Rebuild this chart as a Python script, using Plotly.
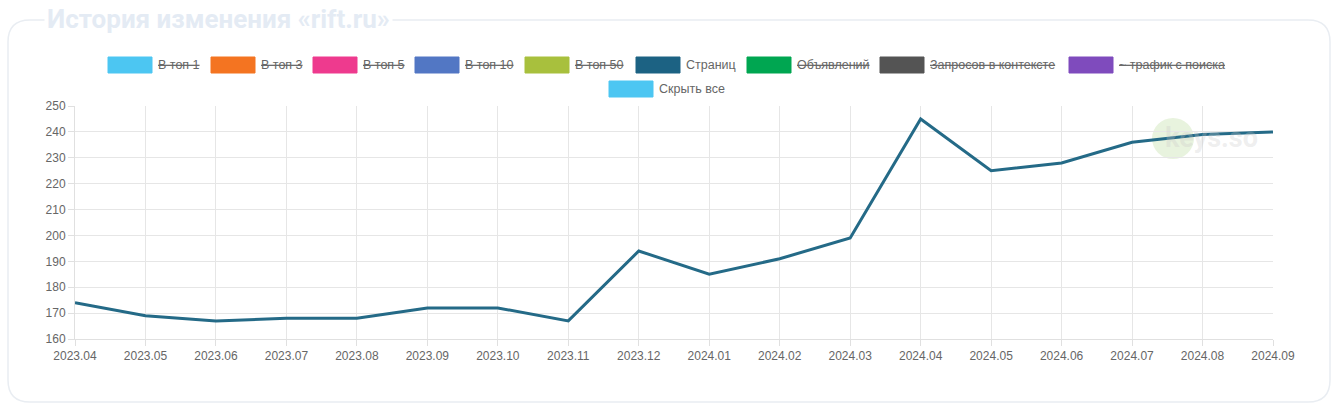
import plotly.graph_objects as go

months = ["2023.04", "2023.05", "2023.06", "2023.07", "2023.08", "2023.09",
          "2023.10", "2023.11", "2023.12", "2024.01", "2024.02", "2024.03",
          "2024.04", "2024.05", "2024.06", "2024.07", "2024.08", "2024.09"]
pages = [174, 169, 167, 168, 168, 172, 172, 167, 194, 185, 191, 199,
         245, 225, 228, 236, 239, 240]

legend_names = ["В топ 1", "В топ 3", "В топ 5", "В топ 10", "В топ 50",
                "Страниц", "Объявлений", "Запросов в контексте", "~ трафик с поиска",
                "Скрыть все"]
legend_colors = ["#4cc6f2", "#f47421", "#ee3a8e", "#5277c4", "#a8c03d",
                 "#1c6283", "#00a651", "#545454", "#7f4bbd", "#4cc6f2"]
legend_hidden = [True, True, True, True, True, False, True, True, True, False]
# pixel layout of legend boxes (left x, center y) in page pixels
legend_box_x = [108, 211, 313, 415, 525, 636, 747, 880, 1069, 609]
legend_row_y = [65, 65, 65, 65, 65, 65, 65, 65, 65, 89]

W, H = 1340, 409
L, R, T, B = 75, 1273, 106, 339  # plot area in page pixels


def px(x):
    return (x - L) / (R - L)


def py(y):
    return (B - y) / (B - T)


fig = go.Figure()
fig.add_trace(go.Scatter(
    x=months, y=pages, mode="lines", name="Страниц",
    line=dict(color="#246a87", width=3), showlegend=False,
    hovertemplate="%{x}: %{y}<extra></extra>"))

shapes = []
annotations = []

# rounded frame
x0, x1, y0, y1, r = 8, 1330, 20, 402, 22
rx, ry = r / (R - L), r / (B - T)
X0, X1, Y0, Y1 = px(x0), px(x1), py(y0), py(y1)
path = (f"M {X0+rx},{Y0} L {X1-rx},{Y0} Q {X1},{Y0} {X1},{Y0-ry} "
        f"L {X1},{Y1+ry} Q {X1},{Y1} {X1-rx},{Y1} L {X0+rx},{Y1} "
        f"Q {X0},{Y1} {X0},{Y1+ry} L {X0},{Y0-ry} Q {X0},{Y0} {X0+rx},{Y0} Z")
shapes.append(dict(type="path", xref="paper", yref="paper", path=path,
                   line=dict(color="#e9edf2", width=1.5), fillcolor="rgba(0,0,0,0)",
                   layer="below"))

# title
annotations.append(dict(x=px(44), y=py(19), xref="paper", yref="paper",
                        xanchor="left", yanchor="middle", showarrow=False,
                        text="<b>История изменения «rift.ru»</b>",
                        font=dict(family="Roboto", size=26, color="#e4ebf4"),
                        bgcolor="white", borderpad=2))

# legend
for name, col, hid, bx, by in zip(legend_names, legend_colors, legend_hidden,
                                  legend_box_x, legend_row_y):
    shapes.append(dict(type="rect", xref="paper", yref="paper",
                       x0=px(bx), x1=px(bx + 44), y0=py(by - 8), y1=py(by + 8),
                       fillcolor=col, line=dict(color=col, width=1)))
    txt = f"<s>{name}</s>" if hid else name
    annotations.append(dict(x=px(bx + 48), y=py(by), xref="paper", yref="paper",
                            xanchor="left", yanchor="middle", showarrow=False,
                            text=txt, font=dict(family="Liberation Sans", size=12.5,
                                                color="#666666")))

# watermark
shapes.append(dict(type="circle", xref="paper", yref="paper",
                   x0=px(1152), x1=px(1194), y0=py(118), y1=py(159),
                   fillcolor="rgba(190,220,160,0.35)", line=dict(width=0), layer="below"))
annotations.append(dict(x=px(1211), y=py(138), xref="paper", yref="paper",
                        xanchor="center", yanchor="middle", showarrow=False,
                        text="<b>keys.so</b>",
                        font=dict(family="Roboto", size=27, color="rgba(200,200,200,0.3)")))

fig.update_layout(
    width=W, height=H,
    margin=dict(l=L, r=W - R, t=T, b=H - B),
    paper_bgcolor="white", plot_bgcolor="white",
    shapes=shapes, annotations=annotations,
    showlegend=False,
    xaxis=dict(type="category", range=[0, len(months) - 1],
               showgrid=True, gridcolor="#e6e6e6", gridwidth=1,
               showline=True, linecolor="#e0e0e0",
               ticks="outside", ticklen=6, tickcolor="#e0e0e0",
               tickfont=dict(family="Liberation Sans", size=12, color="#666666"),
               zeroline=False, fixedrange=True),
    yaxis=dict(range=[160, 250], dtick=10, showgrid=True, gridcolor="#e6e6e6",
               showline=True, linecolor="#e0e0e0",
               ticks="outside", ticklen=6, tickcolor="#e0e0e0",
               tickfont=dict(family="Liberation Sans", size=12, color="#666666"),
               zeroline=False, fixedrange=True),
)

fig.write_html("out.html", config={"displayModeBar": False},
               post_script="document.body.style.margin='0';document.body.style.overflow='hidden';")
